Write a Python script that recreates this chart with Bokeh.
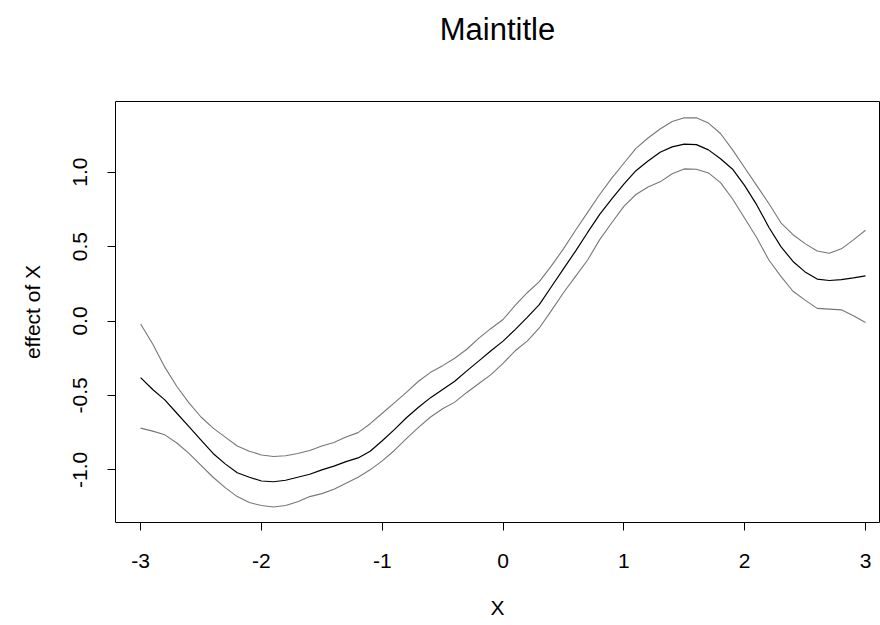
from bokeh.plotting import figure
from bokeh.models import Range1d, FixedTicker, LinearAxis
from bokeh.embed import file_html
from bokeh.resources import INLINE

x = [-3.0, -2.9, -2.8, -2.7, -2.6, -2.5, -2.4, -2.3, -2.2, -2.1,
     -2.0, -1.9, -1.8, -1.7, -1.6, -1.5, -1.4, -1.3, -1.2, -1.1,
     -1.0, -0.9, -0.8, -0.7, -0.6, -0.5, -0.4, -0.3, -0.2, -0.1,
     0.0, 0.1, 0.2, 0.3, 0.4, 0.5, 0.6, 0.7, 0.8, 0.9,
     1.0, 1.1, 1.2, 1.3, 1.4, 1.5, 1.6, 1.7, 1.8, 1.9,
     2.0, 2.1, 2.2, 2.3, 2.4, 2.5, 2.6, 2.7, 2.8, 2.9, 3.0]

fit = [-0.38, -0.46, -0.53, -0.62, -0.71, -0.80, -0.89, -0.96, -1.02, -1.05,
       -1.075, -1.08, -1.07, -1.05, -1.03, -1.00, -0.975, -0.945, -0.92, -0.875,
       -0.805, -0.73, -0.65, -0.58, -0.515, -0.46, -0.405, -0.335, -0.268, -0.20,
       -0.135, -0.058, 0.024, 0.11, 0.23, 0.35, 0.47, 0.595, 0.716, 0.82,
       0.92, 1.01, 1.075, 1.134, 1.17, 1.188, 1.185, 1.15, 1.09, 1.02,
       0.91, 0.78, 0.63, 0.50, 0.40, 0.33, 0.282, 0.272, 0.278, 0.29, 0.303]

upper = [-0.02, -0.155, -0.31, -0.44, -0.55, -0.645, -0.72, -0.78, -0.84, -0.875,
         -0.90, -0.91, -0.905, -0.89, -0.87, -0.84, -0.816, -0.78, -0.75, -0.69,
         -0.62, -0.55, -0.48, -0.405, -0.345, -0.30, -0.25, -0.19, -0.115, -0.05,
         0.01, 0.105, 0.19, 0.265, 0.37, 0.485, 0.61, 0.73, 0.85, 0.96,
         1.06, 1.16, 1.23, 1.29, 1.34, 1.366, 1.365, 1.33, 1.26, 1.15,
         1.03, 0.91, 0.79, 0.66, 0.58, 0.52, 0.47, 0.455, 0.485, 0.545, 0.61]

lower = [-0.72, -0.74, -0.765, -0.82, -0.89, -0.97, -1.05, -1.12, -1.18, -1.22,
         -1.24, -1.25, -1.24, -1.215, -1.18, -1.16, -1.13, -1.09, -1.05, -1.00,
         -0.94, -0.87, -0.79, -0.715, -0.645, -0.59, -0.545, -0.48, -0.42, -0.36,
         -0.285, -0.20, -0.135, -0.047, 0.07, 0.19, 0.30, 0.41, 0.547, 0.66,
         0.77, 0.85, 0.90, 0.935, 0.99, 1.022, 1.02, 0.995, 0.93, 0.82,
         0.69, 0.56, 0.41, 0.30, 0.20, 0.14, 0.085, 0.08, 0.075, 0.035, -0.01]

x_ticks = [-3, -2, -1, 0, 1, 2, 3]
x_tick_labels = ["-3", "-2", "-1", "0", "1", "2", "3"]
y_ticks = [-1.0, -0.5, 0.0, 0.5, 1.0]
y_tick_labels = ["-1.0", "-0.5", "0.0", "0.5", "1.0"]
title_text = "Maintitle"
x_label = "X"
y_label = "effect of X"

FONT = "Liberation Sans"

p = figure(width=880, height=625, output_backend="svg", toolbar_location=None,
           x_range=Range1d(-3.208, 3.116), y_range=Range1d(-1.354, 1.475),
           min_border_left=115, min_border_right=1, min_border_top=101, min_border_bottom=103)

p.grid.visible = False
p.outline_line_color = "black"
p.outline_line_width = 1
p.background_fill_color = "white"
p.border_fill_color = "white"

p.line(x, upper, line_color="#777777", line_width=1.1)
p.line(x, lower, line_color="#777777", line_width=1.1)
p.line(x, fit, line_color="black", line_width=1.2)

for ax in (p.xaxis[0], p.yaxis[0]):
    ax.axis_line_color = None
    ax.major_tick_line_color = "black"
    ax.major_tick_out = 8
    ax.major_tick_in = 0
    ax.minor_tick_line_color = None
    ax.major_label_text_font = FONT
    ax.major_label_text_font_size = "21px"
    ax.major_label_text_color = "black"
    ax.axis_label_text_font = FONT
    ax.axis_label_text_font_size = "21px"
    ax.axis_label_text_font_style = "normal"
    ax.axis_label_text_color = "black"

p.xaxis.ticker = FixedTicker(ticks=x_ticks)
p.xaxis.major_label_overrides = {t: s for t, s in zip(x_ticks, x_tick_labels)}
p.xaxis.axis_label = x_label
p.xaxis.major_label_standoff = 23
p.xaxis.axis_label_standoff = 25

p.yaxis.ticker = FixedTicker(ticks=y_ticks)
p.yaxis.major_label_overrides = {t: s for t, s in zip(y_ticks, y_tick_labels)}
p.yaxis.major_label_orientation = "vertical"
p.yaxis.axis_label = y_label
p.yaxis.major_label_standoff = 20
p.yaxis.axis_label_standoff = 27

# main title drawn as the label of a tick-less axis above the frame
top = LinearAxis(ticker=FixedTicker(ticks=[]), axis_label=title_text,
                 axis_line_color=None, major_tick_out=0, major_tick_in=0,
                 minor_tick_out=0, minor_tick_in=0, major_label_standoff=0,
                 axis_label_standoff=55, axis_label_text_font=FONT,
                 axis_label_text_font_size="31px", axis_label_text_font_style="normal",
                 axis_label_text_color="black")
p.add_layout(top, "above")

open("out.html", "w").write(file_html(p, INLINE))
